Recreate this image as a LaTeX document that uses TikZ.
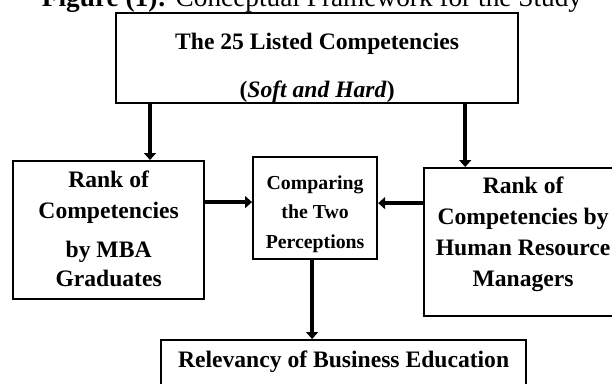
\documentclass[tikz,border=0pt]{standalone}
\usepackage{fontspec}
\setmainfont{Liberation Serif}
\usetikzlibrary{arrows.meta}
\tikzset{
    frame-box/.style = {draw=black, fill=white, line width=2.2pt, rectangle, inner sep=0pt, align=center, anchor=north west,
        font=\bfseries\fontsize{23.6}{31}\selectfont},
    small-box/.style = {frame-box, font=\bfseries\fontsize{19.8}{29.5}\selectfont},
    flow-arrow/.style = {line width=4.4pt, -{Triangle[width=12pt,length=7pt]}},
    title-text/.style = {inner sep=0pt, anchor=base, font=\fontsize{27.3}{32}\selectfont},
}
\begin{document}
\begin{tikzpicture}[x=1pt, y=-1pt]
\useasboundingbox (0,0) rectangle (612,383);
\clip (0,0) rectangle (612,383);

\node[title-text] (title) at (312,6) {\textbf{Figure (1):} Conceptual Framework for the Study};

% boxes, placed by their top left corner (text height = down to the last baseline)
\node[frame-box, minimum width=402pt, text height=84pt, text depth=6pt] (listed) at (115,12)
    {The 25 Listed Competencies\\[17pt](\textit{Soft and Hard})};
\node[frame-box, minimum width=191pt, text height=125pt, text depth=13pt] (mba) at (12,160)
    {Rank of\\Competencies\\[8pt]by MBA\\[-2pt]Graduates};
\node[small-box, minimum width=124pt, text height=91pt, text depth=11pt] (compare) at (252,156)
    {Comparing\\the Two\\Perceptions};
\node[frame-box, minimum width=198pt, text height=118pt, text depth=30pt] (hrm) at (423,167)
    {Rank of\\Competencies by\\Human Resource\\Managers};
\node[frame-box, minimum width=365pt, text height=27pt, text depth=61pt] (relev) at (160,339)
    {Relevancy of Business Education};

% arrows
\draw[flow-arrow] ([xshift=35pt]listed.south west) -- ([xshift=35pt]listed.south west |- mba.north);
\draw[flow-arrow] ([xshift=-54pt]listed.south east) -- ([xshift=-54pt]listed.south east |- hrm.north);
\coordinate (cin) at ([yshift=6pt]compare.west);
\coordinate (cout) at ([yshift=5pt]compare.east);
\draw[flow-arrow] (mba.east |- cin) -- (cin);
\draw[flow-arrow] (hrm.west |- cout) -- (cout);
\draw[flow-arrow] ([xshift=-3pt]compare.south) -- ([xshift=-3pt]compare.south |- relev.north);
\end{tikzpicture}
\end{document}
